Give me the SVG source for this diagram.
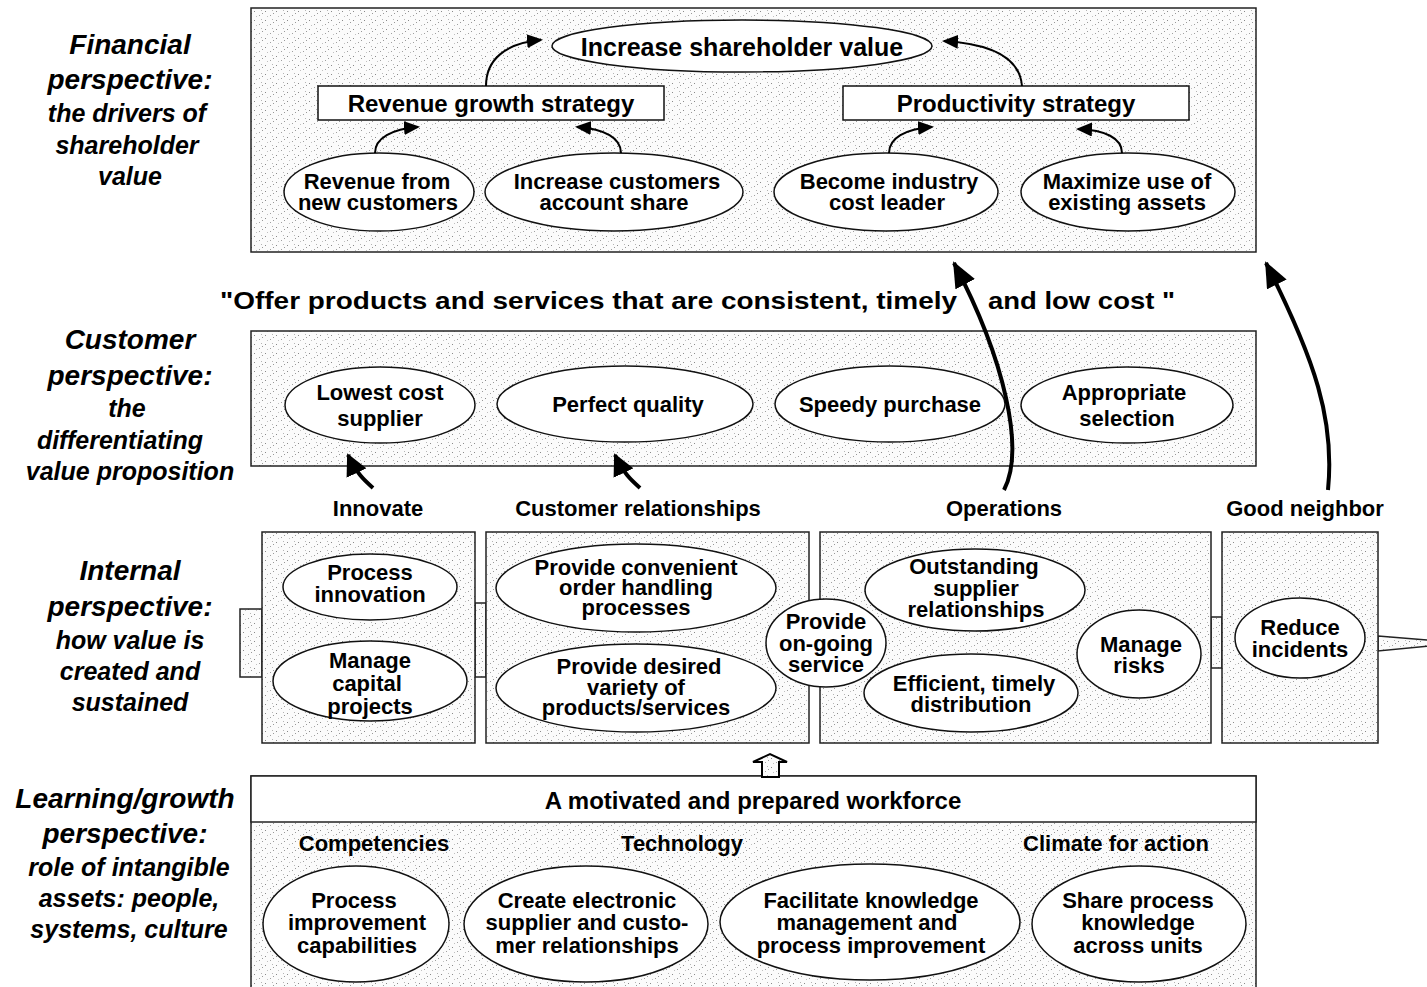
<svg xmlns="http://www.w3.org/2000/svg" width="1427" height="987" viewBox="0 0 1427 987">
<defs>
<pattern id="stip" width="11" height="9" patternUnits="userSpaceOnUse">
<rect width="11" height="9" fill="#fbfbfb"/>
<rect x="1" y="2" width="1" height="1" fill="#8a8a8a"/>
<rect x="6" y="6" width="1" height="1" fill="#a0a0a0"/>
<rect x="8" y="1" width="1" height="1" fill="#b5b5b5"/>
<rect x="3" y="7" width="1" height="1" fill="#c0c0c0"/>
<rect x="9" y="4" width="1" height="1" fill="#999"/>
</pattern>
<marker id="ah" markerUnits="userSpaceOnUse" markerWidth="16" markerHeight="14" refX="14" refY="7" orient="auto">
<path d="M0,0 L16,7 L0,14 z" fill="#000"/>
</marker>
<marker id="ahm" markerUnits="userSpaceOnUse" markerWidth="22" markerHeight="22" refX="20" refY="11" orient="auto">
<path d="M0,0 L22,11 L0,22 z" fill="#000"/>
</marker>
<marker id="ahb" markerUnits="userSpaceOnUse" markerWidth="26" markerHeight="22" refX="24" refY="11" orient="auto">
<path d="M0,0 L26,11 L0,22 z" fill="#000"/>
</marker>
</defs>
<style>
.pn{fill:url(#stip);stroke:#222;stroke-width:1.5}
.el{fill:#fff;stroke:#111;stroke-width:1.5}
.bx{fill:#fff;stroke:#111;stroke-width:1.5}
.t{font-family:"Liberation Sans",Arial,Helvetica,sans-serif;font-weight:bold;font-size:22px;text-anchor:middle;fill:#000}
.tl{font-size:24px}
.h{font-family:"Liberation Sans",Arial,Helvetica,sans-serif;font-weight:bold;font-style:italic;font-size:28px;text-anchor:middle;fill:#000}
.hs{font-size:25px}
.ar{fill:none;stroke:#000;stroke-width:2}
.arm{fill:none;stroke:#000;stroke-width:4}
.arb{fill:none;stroke:#000;stroke-width:4}
</style>
<rect width="1427" height="987" fill="#fff"/>

<g id="labels">
<text class="h" x="130" y="54">Financial</text>
<text class="h" x="130" y="89">perspective:</text>
<text class="h hs" x="127" y="122">the drivers of</text>
<text class="h hs" x="127" y="154">shareholder</text>
<text class="h hs" x="130" y="185">value</text>
<text class="h" x="130" y="349">Customer</text>
<text class="h" x="130" y="385">perspective:</text>
<text class="h hs" x="127" y="417">the</text>
<text class="h hs" x="120" y="449">differentiating</text>
<text class="h hs" x="130" y="480">value proposition</text>
<text class="h" x="130" y="580">Internal</text>
<text class="h" x="130" y="616">perspective:</text>
<text class="h hs" x="130" y="649">how value is</text>
<text class="h hs" x="130" y="680">created and</text>
<text class="h hs" x="130" y="711">sustained</text>
<text class="h" x="125" y="808">Learning/growth</text>
<text class="h" x="125" y="843">perspective:</text>
<text class="h hs" x="129" y="876">role of intangible</text>
<text class="h hs" x="129" y="907">assets: people,</text>
<text class="h hs" x="129" y="938">systems, culture</text>
</g>

<g id="financial-panel">
<rect class="pn" x="251" y="8" width="1005" height="244"/>
</g>
<g id="n-shareholder"><ellipse class="el" cx="742" cy="46" rx="190" ry="26"/><text class="t" x="742" y="56" style="font-size:25px">Increase shareholder value</text></g>
<g id="n-revenue-strategy"><rect class="bx" x="318" y="86" width="346" height="34"/><text class="t tl" x="491" y="112">Revenue growth strategy</text></g>
<g id="n-productivity"><rect class="bx" x="843" y="86" width="346" height="34"/><text class="t tl" x="1016" y="112">Productivity strategy</text></g>
<g id="n-rev-new"><ellipse class="el" cx="379" cy="192" rx="95" ry="39"/><text class="t" x="377" y="189">Revenue from</text><text class="t" x="378" y="210">new customers</text></g>
<g id="n-inc-cust"><ellipse class="el" cx="614" cy="192" rx="129" ry="39"/><text class="t" x="617" y="189">Increase customers</text><text class="t" x="614" y="210">account share</text></g>
<g id="n-cost-leader"><ellipse class="el" cx="886" cy="192" rx="112" ry="39"/><text class="t" x="889" y="189">Become industry</text><text class="t" x="887" y="210">cost leader</text></g>
<g id="n-assets"><ellipse class="el" cx="1128" cy="192" rx="107" ry="39"/><text class="t" x="1127" y="189">Maximize use of</text><text class="t" x="1127" y="210">existing assets</text></g>

<g id="quote">
<text class="t" y="309" style="font-size:24px;text-anchor:start"><tspan x="220" textLength="737" lengthAdjust="spacingAndGlyphs">"Offer products and services that are consistent, timely</tspan><tspan x="988" textLength="187" lengthAdjust="spacingAndGlyphs">and low cost "</tspan></text>
</g>

<g id="customer-panel">
<rect class="pn" x="251" y="331" width="1005" height="135"/>
</g>
<g id="n-lowest"><ellipse class="el" cx="380" cy="405" rx="95" ry="38"/><text class="t" x="380" y="400">Lowest cost</text><text class="t" x="380" y="426">supplier</text></g>
<g id="n-quality"><ellipse class="el" cx="625" cy="404" rx="128" ry="38"/><text class="t" x="628" y="412">Perfect quality</text></g>
<g id="n-speedy"><ellipse class="el" cx="890" cy="404" rx="115" ry="38"/><text class="t" x="890" y="412">Speedy purchase</text></g>
<g id="n-selection"><ellipse class="el" cx="1127" cy="405" rx="106" ry="38"/><text class="t" x="1124" y="400">Appropriate</text><text class="t" x="1127" y="426">selection</text></g>

<g id="theme-labels">
<text class="t" x="378" y="516">Innovate</text>
<text class="t" x="638" y="516">Customer relationships</text>
<text class="t" x="1004" y="516">Operations</text>
<text class="t" x="1305" y="516">Good neighbor</text>
</g>

<g id="internal-boxes">
<rect class="pn" x="240" y="609" width="22" height="68"/>
<rect class="pn" x="475" y="603" width="11" height="74"/>
<rect class="pn" x="1211" y="617" width="11" height="51"/>
<polygon class="pn" points="1378,636 1440,641 1440,645 1378,651"/>
<rect class="pn" x="262" y="532" width="213" height="211"/>
<rect class="pn" x="486" y="532" width="323" height="211"/>
<rect class="pn" x="820" y="532" width="391" height="211"/>
<rect class="pn" x="1222" y="532" width="156" height="211"/>
</g>
<g id="n-proc-innov"><ellipse class="el" cx="370" cy="587" rx="87" ry="33"/><text class="t" x="370" y="580">Process</text><text class="t" x="370" y="602">innovation</text></g>
<g id="n-capital"><ellipse class="el" cx="370" cy="681" rx="97" ry="40"/><text class="t" x="370" y="668">Manage</text><text class="t" x="367" y="691">capital</text><text class="t" x="370" y="714">projects</text></g>
<g id="n-order"><ellipse class="el" cx="636" cy="588" rx="140" ry="44"/><text class="t" x="636" y="575">Provide convenient</text><text class="t" x="636" y="595">order handling</text><text class="t" x="636" y="615">processes</text></g>
<g id="n-variety"><ellipse class="el" cx="636" cy="688" rx="140" ry="44"/><text class="t" x="639" y="674">Provide desired</text><text class="t" x="636" y="695">variety of</text><text class="t" x="636" y="715">products/services</text></g>
<g id="n-ongoing"><ellipse class="el" cx="826" cy="643" rx="60" ry="44"/><text class="t" x="826" y="629">Provide</text><text class="t" x="826" y="651">on-going</text><text class="t" x="826" y="672">service</text></g>
<g id="n-supplier"><ellipse class="el" cx="975" cy="590" rx="110" ry="41"/><text class="t" x="974" y="574">Outstanding</text><text class="t" x="976" y="596">supplier</text><text class="t" x="976" y="617">relationships</text></g>
<g id="n-distribution"><ellipse class="el" cx="971" cy="693" rx="107" ry="39"/><text class="t" x="974" y="691">Efficient, timely</text><text class="t" x="971" y="712">distribution</text></g>
<g id="n-risks"><ellipse class="el" cx="1139" cy="654" rx="62" ry="44"/><text class="t" x="1141" y="652">Manage</text><text class="t" x="1139" y="673">risks</text></g>
<g id="n-incidents"><ellipse class="el" cx="1300" cy="638" rx="65" ry="40"/><text class="t" x="1300" y="635">Reduce</text><text class="t" x="1300" y="657">incidents</text></g>

<g id="learning-panel">
<rect class="pn" x="251" y="776" width="1005" height="220"/>
<rect x="251" y="776" width="1005" height="46" fill="#fff" stroke="#222" stroke-width="1.5"/>
<text class="t tl" x="753" y="809">A motivated and prepared workforce</text>
<text class="t" x="374" y="851">Competencies</text>
<text class="t" x="682" y="851">Technology</text>
<text class="t" x="1116" y="851">Climate for action</text>
</g>
<g id="n-proc-improve"><ellipse class="el" cx="356" cy="924" rx="93" ry="58"/><text class="t" x="354" y="908">Process</text><text class="t" x="357" y="930">improvement</text><text class="t" x="357" y="953">capabilities</text></g>
<g id="n-electronic"><ellipse class="el" cx="586" cy="924" rx="122" ry="58"/><text class="t" x="587" y="908">Create electronic</text><text class="t" x="587" y="930">supplier and custo-</text><text class="t" x="587" y="953">mer relationships</text></g>
<g id="n-knowledge"><ellipse class="el" cx="870" cy="922" rx="150" ry="58"/><text class="t" x="871" y="908">Facilitate knowledge</text><text class="t" x="867" y="930">management and</text><text class="t" x="871" y="953">process improvement</text></g>
<g id="n-share"><ellipse class="el" cx="1139" cy="924" rx="107" ry="58"/><text class="t" x="1138" y="908">Share process</text><text class="t" x="1138" y="930">knowledge</text><text class="t" x="1138" y="953">across units</text></g>

<g id="connectors">
<path class="ar" d="M486,86 C486,60 505,43 541,40" marker-end="url(#ah)"/>
<path class="ar" d="M1022,86 C1020,60 995,44 944,41" marker-end="url(#ah)"/>
<path class="ar" d="M375,153 C375,138 392,129 418,127" marker-end="url(#ah)"/>
<path class="ar" d="M621,153 C621,138 605,129 577,127" marker-end="url(#ah)"/>
<path class="ar" d="M889,153 C889,138 905,129 932,127" marker-end="url(#ah)"/>
<path class="ar" d="M1122,153 C1122,138 1105,130 1078,129" marker-end="url(#ah)"/>
<path class="arm" d="M373,488 C364,480 357,474 348,455" marker-end="url(#ahm)"/>
<path class="arm" d="M640,488 C631,480 624,474 615,455" marker-end="url(#ahm)"/>
<path class="arb" d="M1004,490 C1025,450 1005,360 954,263" marker-end="url(#ahb)"/>
<path class="arb" d="M1328,490 C1335,420 1315,360 1266,263" marker-end="url(#ahb)"/>
<polygon points="762,777 762,762 753,762 770,754 787,762 779,762 779,777" fill="url(#stip)" stroke="#000" stroke-width="2"/>
</g>
</svg>
